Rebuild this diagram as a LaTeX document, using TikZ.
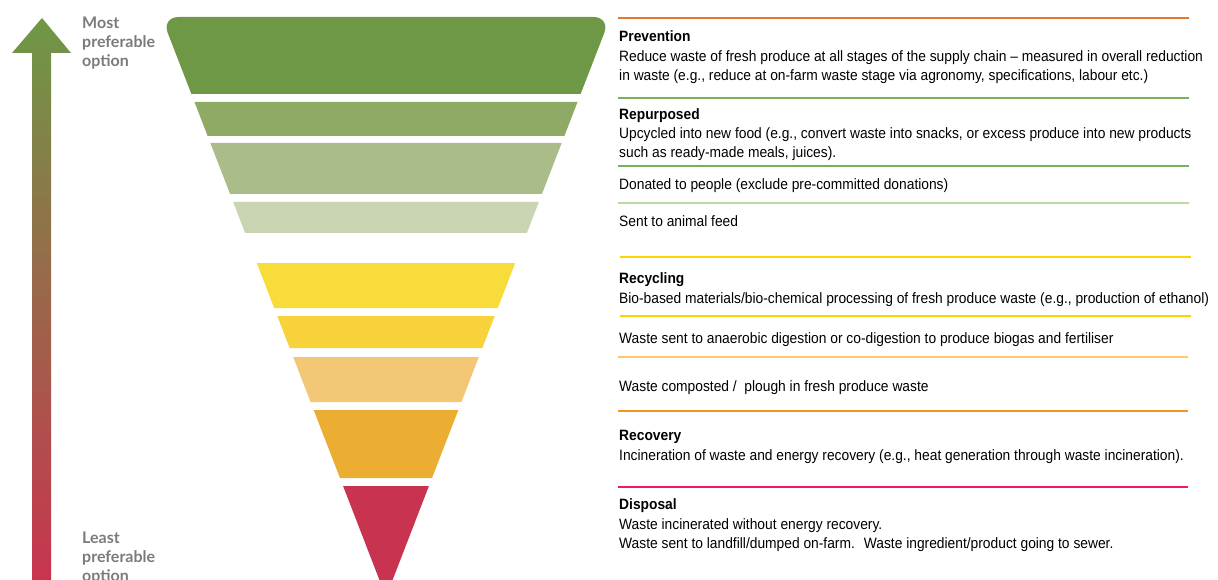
\documentclass[tikz,border=0pt]{standalone}
\usepackage{fontspec}
\setmainfont{Liberation Sans}
\newfontfamily\descfont{Liberation Sans}[FakeStretch=0.92]
\newfontfamily\sidefont{Lato}
\usepackage{tikz}

\definecolor{tierA}{HTML}{6E9846}
\definecolor{tierB}{HTML}{8EAA65}
\definecolor{tierC}{HTML}{A9BC8A}
\definecolor{tierD}{HTML}{C9D4B3}
\definecolor{tierE}{HTML}{F8DC3A}
\definecolor{tierF}{HTML}{F7D23B}
\definecolor{tierG}{HTML}{F2C776}
\definecolor{tierH}{HTML}{EBAE33}
\definecolor{tierI}{HTML}{C8344F}
\definecolor{sidegray}{HTML}{7B7B7B}
\definecolor{ruleorange}{HTML}{E8772E}
\definecolor{rulegreen}{HTML}{77B255}
\definecolor{rulelight}{HTML}{B8DBA5}
\definecolor{ruleyellow}{HTML}{FFD500}
\definecolor{rulepeach}{HTML}{FFC766}
\definecolor{rulesun}{HTML}{F7941E}
\definecolor{rulepink}{HTML}{EE1C5F}

\begin{document}
\begin{tikzpicture}[x=1pt,y=-1pt,
    declare function={hw(\h)=231-0.387*\h;},
    title/.style={anchor=base west,inner sep=0pt,font=\descfont\bfseries\fontsize{15}{19}\selectfont},
    desc/.style={anchor=base west,inner sep=0pt,font=\descfont\fontsize{15}{19}\selectfont},
    side/.style={anchor=north west,inner sep=0pt,align=left,text=sidegray,font=\sidefont\bfseries\fontsize{16}{19}\selectfont},
    rule/.style={line width=2.5pt}]
        \pgfmathsetmacro\cx{386}
        \fill[white] (0,0) rectangle (1218,580);
        \useasboundingbox (0,0) rectangle (1218,580);
        % preference arrow
        \shade[top color=tierA, bottom color=tierI]
            (32,580) -- (32,53) -- (12,53) -- (42,18) -- (71,53) -- (51,53) -- (51,580) -- cycle;
        \node[side] (most) at (82,17) {Most\\preferable\\option};
        \node[side] (least) at (82,532) {Least\\preferable\\option};
        % funnel
        \fill[tierA] ({\cx-hw(94)},94) [rounded corners=17pt] -- ({\cx-hw(17)},17)
            -- ({\cx+hw(17)},17) [sharp corners] -- ({\cx+hw(94)},94) -- cycle;
        \fill[tierB] ({\cx-hw(136)},136) -- ({\cx-hw(102)},102) -- ({\cx+hw(102)},102) -- ({\cx+hw(136)},136) -- cycle;
        \fill[tierC] ({\cx-hw(194)},194) -- ({\cx-hw(143)},143) -- ({\cx+hw(143)},143) -- ({\cx+hw(194)},194) -- cycle;
        \fill[tierD] ({\cx-hw(233)},233) -- ({\cx-hw(202)},202) -- ({\cx+hw(202)},202) -- ({\cx+hw(233)},233) -- cycle;
        \fill[tierE] ({\cx-hw(308)},308) -- ({\cx-hw(263)},263) -- ({\cx+hw(263)},263) -- ({\cx+hw(308)},308) -- cycle;
        \fill[tierF] ({\cx-hw(348)},348) -- ({\cx-hw(316)},316) -- ({\cx+hw(316)},316) -- ({\cx+hw(348)},348) -- cycle;
        \fill[tierG] ({\cx-hw(402)},402) -- ({\cx-hw(357)},357) -- ({\cx+hw(357)},357) -- ({\cx+hw(402)},402) -- cycle;
        \fill[tierH] ({\cx-hw(478)},478) -- ({\cx-hw(410)},410) -- ({\cx+hw(410)},410) -- ({\cx+hw(478)},478) -- cycle;
        \fill[tierI] ({\cx-hw(486)},486) -- ({\cx+hw(486)},486) [rounded corners=8pt] -- (\cx,597) [sharp corners] -- cycle;
        % rules
        \draw[rule, ruleorange] (618,18) -- (1189,18);
        \draw[rule, rulegreen] (618,98) -- (1189,98);
        \draw[rule, rulegreen] (618,166) -- (1189,166);
        \draw[rule, rulelight] (618,203) -- (1189,203);
        \draw[rule, ruleyellow] (620,257) -- (1191,257);
        \draw[rule, ruleyellow] (620,316) -- (1191,316);
        \draw[rule, rulepeach] (618,357) -- (1188,357);
        \draw[rule, rulesun] (618,411) -- (1188,411);
        \draw[rule, rulepink] (618,487) -- (1188,487);
        % texts
        \node[title] (prev) at (619,42) {Prevention};
        \node[desc] (prev1) at (619,62) {Reduce waste of fresh produce at all stages of the supply chain – measured in overall reduction};
        \node[desc] (prev2) at (619,81) {in waste (e.g., reduce at on-farm waste stage via agronomy, specifications, labour etc.)};
        \node[title] (repu) at (619,120) {Repurposed};
        \node[desc] (repu1) at (619,139) {Upcycled into new food (e.g., convert waste into snacks, or excess produce into new products};
        \node[desc] (repu2) at (619,158) {such as ready-made meals, juices).};
        \node[desc] (dona) at (619,190) {Donated to people (exclude pre-committed donations)};
        \node[desc] (feed) at (619,227) {Sent to animal feed};
        \node[title] (recy) at (619,283) {Recycling};
        \node[desc] (recy1) at (619,303) {Bio-based materials/bio-chemical processing of fresh produce waste (e.g., production of ethanol)};
        \node[desc] (anae) at (619,343) {Waste sent to anaerobic digestion or co-digestion to produce biogas and fertiliser};
        \node[desc] (comp) at (619,391) {Waste composted /~ plough in fresh produce waste};
        \node[title] (reco) at (619,440) {Recovery};
        \node[desc] (reco1) at (619,460) {Incineration of waste and energy recovery (e.g., heat generation through waste incineration).};
        \node[title] (disp) at (619,509) {Disposal};
        \node[desc] (disp1) at (619,529) {Waste incinerated without energy recovery.};
        \node[desc] (disp2) at (619,548) {Waste sent to landfill/dumped on-farm.~ Waste ingredient/product going to sewer.};
    \end{tikzpicture}
\end{document}
